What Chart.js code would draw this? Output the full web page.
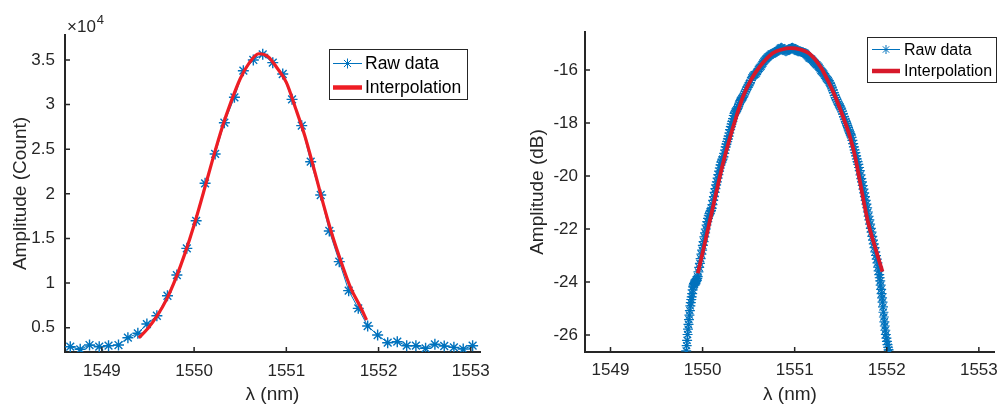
<!DOCTYPE html>
<html lang="en">
<head>
<meta charset="UTF-8">
<title>Raw data and interpolation</title>
<script src="https://cdn.jsdelivr.net/npm/chart.js"></script>
<style>
    body { margin: 0; background: #ffffff; }
    .wrap { position: relative; width: 1006px; height: 406px; }
    canvas { position: absolute; top: 0; }
    #leftChart { left: 0; }
    #rightChart { left: 500px; }
</style>
</head>
<body>
<div class="wrap">
    <canvas id="leftChart" width="500" height="406"></canvas>
    <canvas id="rightChart" width="506" height="406"></canvas>
</div>
<script>
// ---- left panel: linear counts ----
const leftRawX = [1548.657, 1548.765, 1548.866, 1548.971, 1549.072, 1549.180, 1549.282, 1549.390, 1549.488, 1549.596,
    1549.711, 1549.813, 1549.921, 1550.022, 1550.119, 1550.228, 1550.328, 1550.437, 1550.534, 1550.642,
    1550.744, 1550.853, 1550.961, 1551.062, 1551.167, 1551.264, 1551.373, 1551.466, 1551.574, 1551.676,
    1551.780, 1551.882, 1551.990, 1552.099, 1552.203, 1552.305, 1552.405, 1552.510, 1552.611, 1552.712,
    1552.817, 1552.918, 1553.020];
const leftRawY = [2870, 2580, 3060, 2870, 2980, 3060, 3880, 4370, 5410, 6340,
    8580, 10900, 13890, 16980, 21180, 24470, 27970, 30820, 33800, 35000,
    35630, 34700, 33430, 30590, 27640, 23600, 19870, 15840, 12400, 9150,
    7170, 5190, 4180, 3320, 3430, 2980, 2980, 2690, 3140, 2950,
    2800, 2610, 2980];
const leftFitX = [1549.40, 1549.50, 1549.60, 1549.70, 1549.80, 1549.90, 1550.00, 1550.10, 1550.20, 1550.30,
    1550.40, 1550.50, 1550.60, 1550.70, 1550.80, 1550.90, 1551.00, 1551.10, 1551.20, 1551.30,
    1551.40, 1551.50, 1551.60, 1551.70, 1551.80, 1551.87];
const leftFitY = [3850, 4950, 6350, 8150, 10500, 13300, 16500, 20100, 23800, 27300,
    30300, 32900, 34700, 35700, 35400, 34100, 32500, 29600, 26500, 22800,
    18900, 15300, 12200, 9400, 7400, 5860];
const leftYTicks = [5000, 10000, 15000, 20000, 25000, 30000, 35000];

// ---- right panel: dB ----
const rightRawX = [
    1549.822, 1549.827, 1549.832, 1549.837, 1549.842, 1549.847, 1549.852, 1549.857, 1549.862, 1549.867,
    1549.872, 1549.877, 1549.882, 1549.887, 1549.892, 1549.897, 1549.902, 1549.907, 1549.912, 1549.917,
    1549.922, 1549.927, 1549.932, 1549.937, 1549.942, 1549.947, 1549.955, 1549.963, 1549.971, 1549.979,
    1549.987, 1549.995, 1550.003, 1550.011, 1550.019, 1550.027, 1550.035, 1550.043, 1550.051, 1550.059,
    1550.067, 1550.075, 1550.083, 1550.091, 1550.099, 1550.107, 1550.115, 1550.123, 1550.131, 1550.139,
    1550.147, 1550.155, 1550.163, 1550.171, 1550.179, 1550.187, 1550.195, 1550.203, 1550.211, 1550.219,
    1550.227, 1550.235, 1550.243, 1550.251, 1550.259, 1550.267, 1550.275, 1550.283, 1550.291, 1550.299,
    1550.307, 1550.315, 1550.323, 1550.331, 1550.339, 1550.347, 1550.355, 1550.363, 1550.371, 1550.379,
    1550.387, 1550.395, 1550.403, 1550.411, 1550.419, 1550.427, 1550.435, 1550.445, 1550.455, 1550.465,
    1550.475, 1550.485, 1550.495, 1550.505, 1550.515, 1550.525, 1550.535, 1550.545, 1550.555, 1550.565,
    1550.575, 1550.585, 1550.595, 1550.605, 1550.615, 1550.625, 1550.635, 1550.645, 1550.655, 1550.665,
    1550.675, 1550.685, 1550.695, 1550.705, 1550.715, 1550.725, 1550.735, 1550.745, 1550.755, 1550.765,
    1550.775, 1550.785, 1550.795, 1550.805, 1550.815, 1550.825, 1550.835, 1550.845, 1550.855, 1550.865,
    1550.875, 1550.885, 1550.895, 1550.905, 1550.915, 1550.925, 1550.935, 1550.945, 1550.955, 1550.965,
    1550.975, 1550.985, 1550.995, 1551.005, 1551.015, 1551.025, 1551.035, 1551.045, 1551.055, 1551.065,
    1551.075, 1551.085, 1551.095, 1551.105, 1551.115, 1551.125, 1551.135, 1551.145, 1551.155, 1551.165,
    1551.175, 1551.185, 1551.195, 1551.205, 1551.215, 1551.225, 1551.235, 1551.245, 1551.255, 1551.265,
    1551.275, 1551.285, 1551.295, 1551.305, 1551.315, 1551.325, 1551.335, 1551.345, 1551.355, 1551.365,
    1551.375, 1551.385, 1551.395, 1551.405, 1551.415, 1551.425, 1551.435, 1551.445, 1551.455, 1551.465,
    1551.475, 1551.485, 1551.495, 1551.505, 1551.515, 1551.525, 1551.535, 1551.545, 1551.555, 1551.563,
    1551.571, 1551.579, 1551.587, 1551.595, 1551.603, 1551.611, 1551.619, 1551.627, 1551.635, 1551.643,
    1551.651, 1551.659, 1551.667, 1551.675, 1551.683, 1551.691, 1551.699, 1551.707, 1551.715, 1551.723,
    1551.731, 1551.739, 1551.747, 1551.755, 1551.763, 1551.771, 1551.779, 1551.787, 1551.795, 1551.803,
    1551.811, 1551.819, 1551.827, 1551.835, 1551.843, 1551.851, 1551.859, 1551.867, 1551.875, 1551.883,
    1551.891, 1551.899, 1551.906, 1551.912, 1551.918, 1551.924, 1551.929, 1551.934, 1551.939, 1551.944,
    1551.949, 1551.954, 1551.959, 1551.964, 1551.969, 1551.974, 1551.979, 1551.984, 1551.990, 1551.996,
    1552.002, 1552.008, 1552.014, 1552.020, 1552.026];
const rightRawY = [
    -26.60, -26.40, -26.20, -25.98, -25.78, -25.60, -25.42, -25.25, -25.08, -24.90,
    -24.78, -24.66, -24.56, -24.44, -24.30, -24.18, -24.12, -24.05, -24.10, -24.02,
    -23.98, -24.00, -23.92, -23.95, -23.86, -23.80, -23.62, -23.45, -23.30, -23.12,
    -22.95, -22.80, -22.62, -22.48, -22.30, -22.15, -22.00, -21.85, -21.72, -21.60,
    -21.50, -21.42, -21.35, -21.30, -21.22, -21.08, -20.92, -20.78, -20.62, -20.48,
    -20.34, -20.22, -20.08, -19.95, -19.82, -19.70, -19.58, -19.48, -19.40, -19.36,
    -19.28, -19.15, -19.02, -18.90, -18.80, -18.70, -18.60, -18.50, -18.38, -18.25,
    -18.14, -18.04, -17.94, -17.84, -17.72, -17.64, -17.58, -17.54, -17.50, -17.45,
    -17.38, -17.30, -17.22, -17.16, -17.12, -17.08, -17.04, -16.98, -16.90, -16.82,
    -16.74, -16.66, -16.60, -16.54, -16.48, -16.40, -16.30, -16.24, -16.20, -16.18,
    -16.16, -16.12, -16.06, -15.98, -15.94, -15.90, -15.86, -15.80, -15.74, -15.68,
    -15.64, -15.60, -15.56, -15.52, -15.50, -15.46, -15.44, -15.40, -15.40, -15.38,
    -15.36, -15.34, -15.32, -15.30, -15.28, -15.26, -15.22, -15.18, -15.16, -15.18,
    -15.22, -15.26, -15.28, -15.30, -15.28, -15.26, -15.24, -15.22, -15.20, -15.17,
    -15.16, -15.18, -15.20, -15.22, -15.26, -15.28, -15.30, -15.30, -15.30, -15.31,
    -15.32, -15.33, -15.34, -15.36, -15.38, -15.42, -15.46, -15.50, -15.54, -15.56,
    -15.58, -15.60, -15.64, -15.68, -15.72, -15.76, -15.80, -15.82, -15.86, -15.90,
    -15.96, -16.02, -16.06, -16.10, -16.14, -16.20, -16.26, -16.32, -16.36, -16.40,
    -16.46, -16.52, -16.60, -16.68, -16.76, -16.86, -16.96, -17.04, -17.12, -17.20,
    -17.28, -17.34, -17.40, -17.48, -17.56, -17.66, -17.76, -17.86, -17.94, -18.02,
    -18.10, -18.18, -18.26, -18.34, -18.40, -18.46, -18.54, -18.66, -18.78, -18.90,
    -19.02, -19.12, -19.24, -19.36, -19.46, -19.56, -19.68, -19.80, -19.96, -20.10,
    -20.22, -20.36, -20.50, -20.64, -20.78, -20.92, -21.06, -21.20, -21.36, -21.52,
    -21.66, -21.82, -21.98, -22.12, -22.28, -22.42, -22.56, -22.70, -22.86, -23.00,
    -23.14, -23.28, -23.44, -23.58, -23.72, -23.84, -23.96, -24.12, -24.28, -24.44,
    -24.60, -24.76, -24.94, -25.14, -25.32, -25.50, -25.66, -25.82, -25.98, -26.12,
    -26.24, -26.36, -26.46, -26.56, -26.66];
const rightFitX = [1549.948, 1550.000, 1550.072, 1550.153, 1550.220, 1550.300, 1550.370, 1550.440, 1550.530, 1550.620,
    1550.760, 1550.860, 1550.960, 1551.060, 1551.155, 1551.280, 1551.360, 1551.440, 1551.520, 1551.600,
    1551.655, 1551.705, 1551.800, 1551.870, 1551.953];
const rightFitY = [-23.67, -22.90, -21.80, -20.55, -19.55, -18.52, -17.72, -17.00, -16.35, -15.88,
    -15.37, -15.23, -15.18, -15.23, -15.37, -15.88, -16.40, -17.00, -17.72, -18.52,
    -19.25, -20.15, -21.80, -22.65, -23.61];

const seriesLabels = ['Raw data', 'Interpolation'];
const xTitle = 'λ (nm)';

const ink = '#262626';
const blue = '#0072BD';
Chart.defaults.font.family = "'Liberation Sans', Arial, Helvetica, sans-serif";
Chart.defaults.color = ink;

function pts(xs, ys) {
    return xs.map((x, i) => ({ x: x, y: ys[i] }));
}

// inward tick marks, legend box and exponent label, matlab style
const matlabLook = {
    id: 'matlabLook',
    afterDatasetsDraw(chart, args, o) {
        const ctx = chart.ctx, a = chart.chartArea;
        const xs = chart.scales.x, ys = chart.scales.y;
        ctx.save();
        ctx.strokeStyle = ink;
        ctx.lineWidth = 1.5;
        ctx.beginPath();
        xs.ticks.forEach(t => {
            const px = xs.getPixelForValue(t.value);
            ctx.moveTo(px, a.bottom); ctx.lineTo(px, a.bottom - 5);
        });
        ys.ticks.forEach(t => {
            const py = ys.getPixelForValue(t.value);
            ctx.moveTo(a.left, py); ctx.lineTo(a.left + 5, py);
        });
        ctx.stroke();

        if (o.exponent) {
            ctx.fillStyle = ink;
            ctx.textBaseline = 'alphabetic';
            ctx.font = '17px ' + Chart.defaults.font.family;
            ctx.fillText('×10', a.left + 2, 32);
            const w = ctx.measureText('×10').width;
            ctx.font = '13px ' + Chart.defaults.font.family;
            ctx.fillText(o.exponent, a.left + 3 + w, 24);
        }

        const L = o.legend;
        ctx.fillStyle = '#ffffff';
        ctx.fillRect(L.x, L.y, L.w, L.h);
        ctx.strokeStyle = ink;
        ctx.lineWidth = 1;
        ctx.strokeRect(L.x + 0.5, L.y + 0.5, L.w, L.h);
        ctx.font = L.font + 'px ' + Chart.defaults.font.family;
        ctx.textBaseline = 'middle';
        chart.data.datasets.forEach((ds, i) => {
            const ry = L.rows[i];
            ctx.strokeStyle = ds.borderColor;
            ctx.lineWidth = ds.legendWidth;
            ctx.beginPath();
            ctx.moveTo(L.x0, ry); ctx.lineTo(L.x1, ry);
            ctx.stroke();
            if (ds.pointRadius > 0) {
                Chart.helpers.drawPoint(ctx, {
                    pointStyle: 'star', radius: L.star, borderWidth: 1.2
                }, (L.x0 + L.x1) / 2, ry);
            }
            ctx.fillStyle = '#000000';
            ctx.fillText(ds.label, L.tx, ry + 1);
        });
        ctx.restore();
    }
};

function axisOpts(min, max, step, fmt, title, size, tickPad, titlePad) {
    return {
        type: 'linear', min: min, max: max,
        grid: { display: false, drawTicks: false },
        border: { display: true, color: ink, width: 2 },
        ticks: { stepSize: step, includeBounds: false, autoSkip: false, maxRotation: 0,
                 padding: tickPad, color: ink, font: { size: 17 }, callback: fmt },
        title: { display: true, text: title, color: ink, font: { size: 19 }, padding: titlePad },
        afterFit: s => { if (s.isHorizontal()) s.height = size; else s.width = size; }
    };
}

const leftY = axisOpts(2277, 37800, 5000, v => String(v / 1e4), 'Amplitude (Count)', 65, 10, { top: 9, bottom: 0 });
leftY.afterBuildTicks = s => { s.ticks = leftYTicks.map(v => ({ value: v })); };

new Chart(document.getElementById('leftChart'), {
    type: 'scatter',
    data: {
        datasets: [
            { label: seriesLabels[0], data: pts(leftRawX, leftRawY), showLine: true, order: 1,
              borderColor: blue, borderWidth: 1, legendWidth: 1,
              pointStyle: 'star', pointRadius: 5.5, pointBorderWidth: 1.4, pointBorderColor: blue },
            { label: seriesLabels[1], data: pts(leftFitX, leftFitY), showLine: true, order: 0,
              borderColor: '#ee1d24', borderWidth: 3.2, legendWidth: 4.5, pointRadius: 0,
              cubicInterpolationMode: 'monotone' }
        ]
    },
    options: {
        responsive: false, animation: false,
        layout: { padding: { left: 0, right: 20, top: 35, bottom: 0 } },
        scales: {
            x: axisOpts(1548.6, 1553.1, 1, v => String(v), xTitle, 54, 9, { top: 0, bottom: 0 }),
            y: leftY
        },
        plugins: {
            legend: { display: false },
            tooltip: { enabled: false },
            matlabLook: {
                exponent: '4',
                legend: { x: 329, y: 49, w: 138, h: 50, rows: [63.5, 87.5], x0: 333, x1: 362, tx: 365, font: 17.5, star: 5 }
            }
        }
    },
    plugins: [matlabLook]
});

new Chart(document.getElementById('rightChart'), {
    type: 'scatter',
    data: {
        datasets: [
            { label: seriesLabels[0], data: pts(rightRawX, rightRawY), showLine: true, order: 1,
              borderColor: blue, borderWidth: 1, legendWidth: 1,
              pointStyle: 'star', pointRadius: 5, pointBorderWidth: 1.2, pointBorderColor: blue },
            { label: seriesLabels[1], data: pts(rightFitX, rightFitY), showLine: true, order: 0,
              borderColor: '#d7192a', borderWidth: 3.8, legendWidth: 4.5, pointRadius: 0,
              cubicInterpolationMode: 'monotone' }
        ]
    },
    options: {
        responsive: false, animation: false,
        layout: { padding: { left: 0, right: 3, top: 32, bottom: 0 } },
        scales: {
            x: axisOpts(1548.723, 1553.174, 1, v => String(v), xTitle, 54, 8, { top: 0, bottom: 0 }),
            y: axisOpts(-26.64, -14.57, 2, v => String(v), 'Amplitude (dB)', 85, 7, { top: 26, bottom: 0 })
        },
        plugins: {
            legend: { display: false },
            tooltip: { enabled: false },
            matlabLook: {
                legend: { x: 367, y: 37, w: 129, h: 45, rows: [49.5, 71], x0: 372, x1: 400, tx: 404, font: 16, star: 4.5 }
            }
        }
    },
    plugins: [matlabLook]
});
</script>
</body>
</html>
